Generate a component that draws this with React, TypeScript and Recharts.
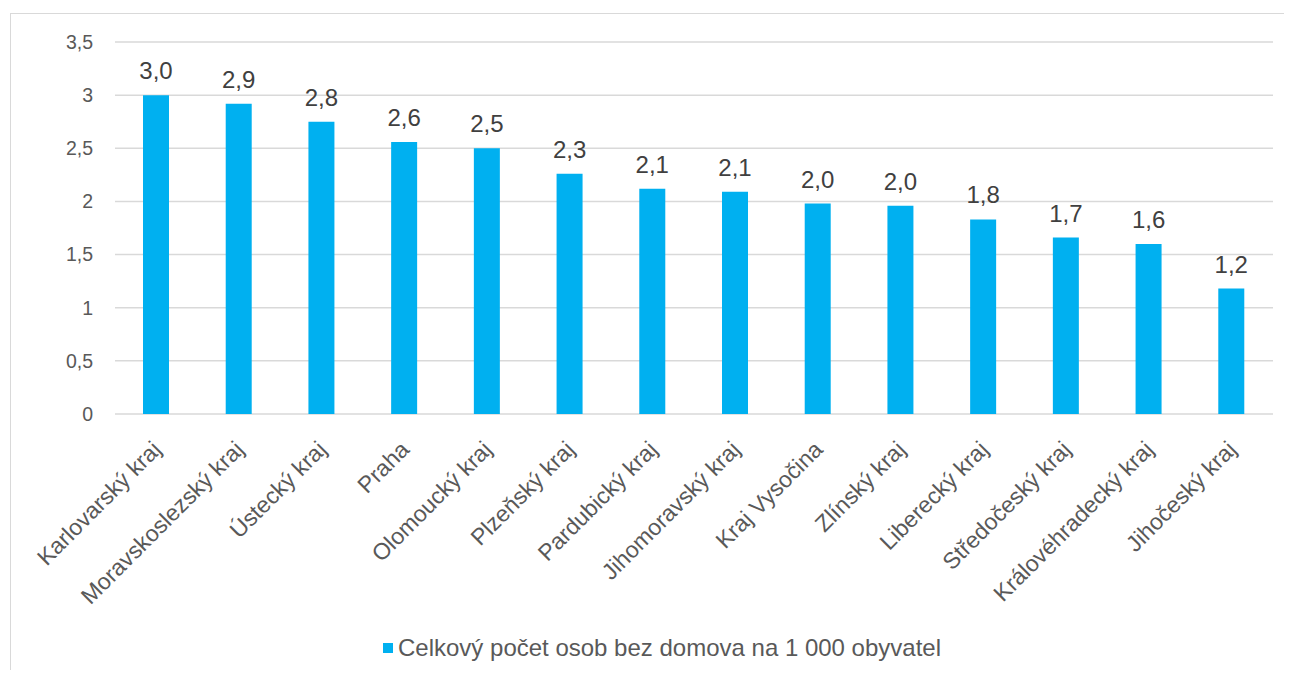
import { BarChart, Bar, XAxis, YAxis, CartesianGrid, LabelList, Legend } from "recharts";

const regions = [
  "Karlovarský kraj",
  "Moravskoslezský kraj",
  "Ústecký kraj",
  "Praha",
  "Olomoucký kraj",
  "Plzeňský kraj",
  "Pardubický kraj",
  "Jihomoravský kraj",
  "Kraj Vysočina",
  "Zlínský kraj",
  "Liberecký kraj",
  "Středočeský kraj",
  "Královéhradecký kraj",
  "Jihočeský kraj",
];
const perThousand = [3.0, 2.92, 2.75, 2.56, 2.5, 2.26, 2.12, 2.09, 1.98, 1.96, 1.83, 1.66, 1.6, 1.18];
const yTicks = [0, 0.5, 1, 1.5, 2, 2.5, 3, 3.5];
const seriesName = "Celkový počet osob bez domova na 1 000 obyvatel";

const data = regions.map((name, i) => ({ name, value: perThousand[i] }));

const FONT = '"Liberation Sans", Arial, sans-serif';
const BLUE = "#00B0F0";
const GRID = "#d9d9d9";

const comma = (v: number, digits?: number) =>
  (digits === undefined ? String(v) : v.toFixed(digits)).replace(".", ",");

// region names run diagonally, ending just right of the bar centre
const RegionTick = ({ x, y, payload }: any) => (
  <text
    x={0}
    y={0}
    textAnchor="end"
    fontSize={23}
    fontFamily={FONT}
    fill="#595959"
    transform={`translate(${x + 6},${y + 35}) rotate(-45)`}
  >
    {payload.value}
  </text>
);

const LegendBox = () => (
  <div style={{ display: "flex", alignItems: "center", fontFamily: FONT, fontSize: 24, color: "#595959", lineHeight: "24px" }}>
    <span style={{ width: 10, height: 10, background: BLUE, marginRight: 5, display: "inline-block" }} />
    <span>{seriesName}</span>
  </div>
);

export default function App() {
  return (
    <div style={{ position: "relative", width: 1276, height: 662, overflow: "hidden" }}>
      <div
        style={{
          position: "absolute",
          left: 2,
          top: 5,
          width: 1400,
          height: 800,
          border: `1.5px solid ${GRID}`,
        }}
      />
      <div style={{ position: "absolute", left: 0, top: 0 }}>
        <BarChart width={1276} height={662} data={data} margin={{ top: 34, right: 11, bottom: 0, left: 0 }}>
          <CartesianGrid vertical={false} stroke={GRID} strokeWidth={1.5} />
          <XAxis
            dataKey="name"
            interval={0}
            axisLine={false}
            tickLine={false}
            tickSize={0}
            height={232}
            tick={<RegionTick />}
          />
          <YAxis
            domain={[0, 3.5]}
            ticks={yTicks}
            width={107}
            axisLine={false}
            tickLine={false}
            tickSize={0}
            tickMargin={22}
            tickFormatter={(v: number) => comma(v)}
            tick={{ fontSize: 19.5, fontFamily: FONT, fill: "#595959" }}
          />
          <Legend
            content={<LegendBox />}
            wrapperStyle={{ position: "absolute", left: 375, top: 628, width: "auto" }}
          />
          <Bar dataKey="value" name={seriesName} fill={BLUE} barSize={26} isAnimationActive={false}>
            <LabelList
              dataKey="value"
              position="top"
              offset={16}
              formatter={(v: any) => comma(Number(v), 1)}
              style={{ fontSize: 24, fontFamily: FONT, fill: "#404040" }}
            />
          </Bar>
        </BarChart>
      </div>
    </div>
  );
}
